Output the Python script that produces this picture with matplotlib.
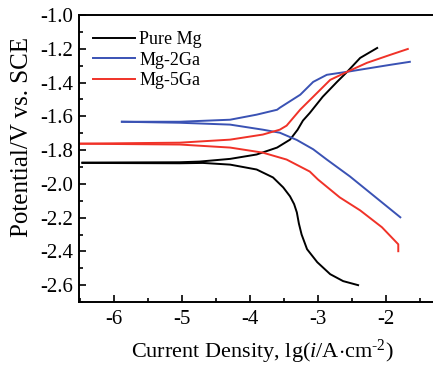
import matplotlib
matplotlib.use("Agg")
import matplotlib.pyplot as plt
from matplotlib.ticker import MultipleLocator

# Tafel curves: lg(i) and potential (V vs SCE)
# Pure Mg
mg_anodic_x = [-6.46, -5.03, -4.74, -4.29, -3.90, -3.60, -3.41, -3.30, -3.22, -3.12, -2.93, -2.72, -2.57, -2.38, -2.13]
mg_anodic_y = [-1.874, -1.872, -1.868, -1.852, -1.826, -1.785, -1.738, -1.680, -1.625, -1.580, -1.484, -1.396, -1.336, -1.254, -1.195]
mg_cathodic_x = [-6.46, -5.03, -4.69, -4.29, -3.90, -3.66, -3.51, -3.41, -3.35, -3.31, -3.28, -3.24, -3.16, -3.01, -2.82, -2.63, -2.41]
mg_cathodic_y = [-1.876, -1.878, -1.876, -1.886, -1.915, -1.962, -2.021, -2.074, -2.120, -2.169, -2.235, -2.300, -2.387, -2.464, -2.535, -2.576, -2.600]

# Mg-2Ga
ga2_anodic_x = [-5.88, -5.03, -4.29, -3.90, -3.60, -3.56, -3.26, -3.07, -2.87, -2.57, -1.94, -1.65]
ga2_anodic_y = [-1.632, -1.632, -1.620, -1.590, -1.561, -1.549, -1.472, -1.396, -1.354, -1.336, -1.295, -1.277]
ga2_cathodic_x = [-5.88, -5.03, -4.29, -3.81, -3.56, -3.31, -3.07, -2.87, -2.53, -1.79]
ga2_cathodic_y = [-1.632, -1.638, -1.649, -1.679, -1.697, -1.740, -1.795, -1.856, -1.956, -2.198]

# Mg-5Ga
ga5_anodic_x = [-6.55, -5.03, -4.29, -3.81, -3.56, -3.46, -3.26, -3.01, -2.82, -2.57, -2.28, -1.94, -1.68]
ga5_anodic_y = [-1.762, -1.756, -1.738, -1.708, -1.679, -1.655, -1.560, -1.460, -1.384, -1.336, -1.283, -1.236, -1.201]
ga5_cathodic_x = [-6.55, -5.03, -4.29, -3.81, -3.46, -3.12, -3.00, -2.68, -2.38, -2.06, -1.82, -1.82]
ga5_cathodic_y = [-1.762, -1.767, -1.785, -1.815, -1.856, -1.927, -1.974, -2.080, -2.157, -2.257, -2.358, -2.399]

labels = ["Pure Mg", "Mg-2Ga", "Mg-5Ga"]
colors = ["black", "#3a52b4", "#f03228"]

plt.rcParams["font.family"] = ["Liberation Serif", "DejaVu Serif"]
plt.rcParams["mathtext.fontset"] = "custom"
plt.rcParams["mathtext.rm"] = "Liberation Serif"
plt.rcParams["mathtext.it"] = "Liberation Serif:italic"

fig = plt.figure(figsize=(4.33, 3.67), dpi=100)
ax = fig.add_axes([0.1824, 0.177, 0.8176, 0.782])

curves = [
    (mg_anodic_x, mg_anodic_y, mg_cathodic_x, mg_cathodic_y),
    (ga2_anodic_x, ga2_anodic_y, ga2_cathodic_x, ga2_cathodic_y),
    (ga5_anodic_x, ga5_anodic_y, ga5_cathodic_x, ga5_cathodic_y),
]
for (ax_x, ax_y, cx, cy), lab, col in zip(curves, labels, colors):
    ax.plot(ax_x, ax_y, color=col, lw=1.4, label=lab, solid_joinstyle="round")
    ax.plot(cx, cy, color=col, lw=1.4, solid_joinstyle="round")

ax.set_xlim(-6.51, -1.31)
ax.set_ylim(-2.7, -1.0)
ax.xaxis.set_minor_locator(MultipleLocator(0.5))
ax.yaxis.set_minor_locator(MultipleLocator(0.1))
ax.set_xticks([-6, -5, -4, -3, -2])
ax.set_xticklabels(["-6", "-5", "-4", "-3", "-2"])
ax.set_yticks([-2.6, -2.4, -2.2, -2.0, -1.8, -1.6, -1.4, -1.2, -1.0])
ax.set_yticklabels(["-2.6", "-2.4", "-2.2", "-2.0", "-1.8", "-1.6", "-1.4", "-1.2", "-1.0"])

ax.tick_params(which="both", direction="in", top=False, right=False, labelsize=15, width=1.2)
ax.tick_params(which="major", length=5)
ax.tick_params(which="minor", length=3)
ax.tick_params(axis="x", pad=6)
ax.tick_params(axis="y", pad=4)
for s in ["left", "bottom", "top"]:
    ax.spines[s].set_linewidth(1.4)
ax.spines["right"].set_visible(False)

ax.set_xlabel(r"Current Density, lg($i$/A$\cdot$cm$^{\text{-2}}$)", fontsize=16)
ax.set_ylabel("Potential/V vs. SCE", fontsize=18)
ax.xaxis.set_label_coords(0.517, -0.125)
ax.yaxis.set_label_coords(-0.13, 0.575)

ax.legend(loc="upper left", bbox_to_anchor=(0.01, 0.982), frameon=False, fontsize=13,
          handlelength=2.3, handletextpad=0.25, labelspacing=0.2, borderaxespad=0.2)

fig.savefig("out.png", dpi=100)
